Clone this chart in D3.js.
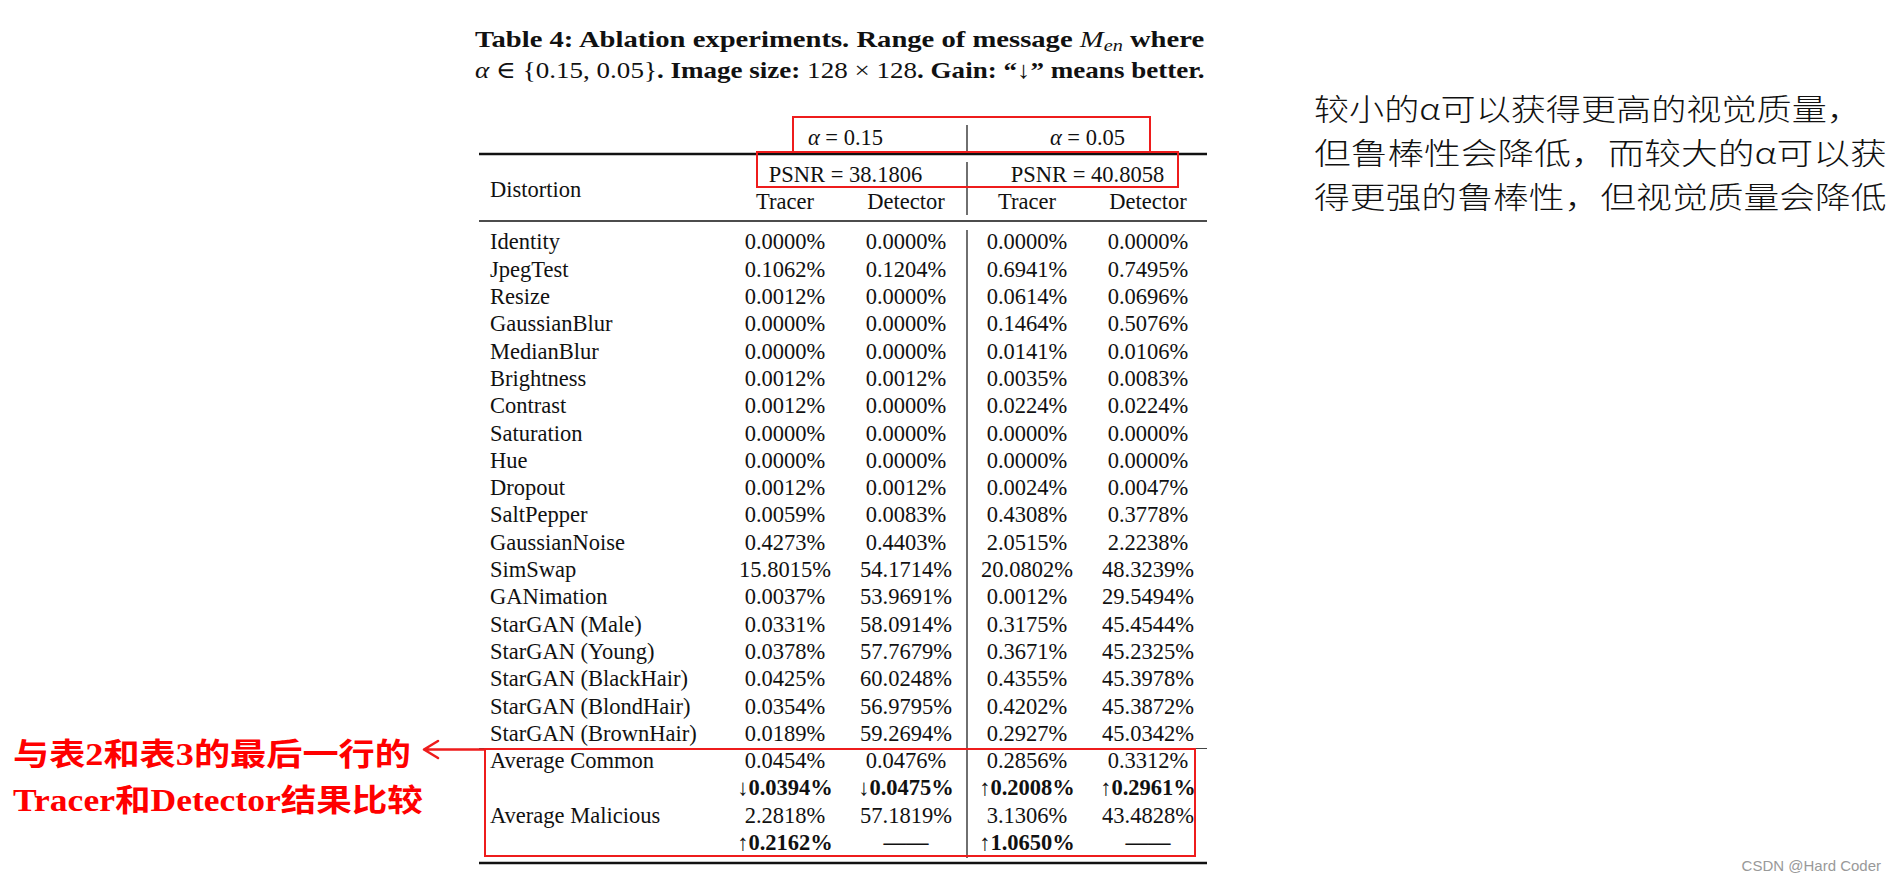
<!DOCTYPE html>
<html>
<head>
<meta charset="utf-8">
<script src="https://cdn.jsdelivr.net/npm/d3@7.9.0/dist/d3.min.js"></script>
<style>
  body { margin: 0; background: #fff; }
  svg { display: block; }
  .serif { font-family: "Liberation Serif", "DejaVu Serif", serif; }
</style>
</head>
<body>
<svg id="chart" width="1896" height="882"></svg>
<script>
// ---- table data ----
const distortions = [
  'Identity', 'JpegTest', 'Resize', 'GaussianBlur', 'MedianBlur', 'Brightness',
  'Contrast', 'Saturation', 'Hue', 'Dropout', 'SaltPepper', 'GaussianNoise',
  'SimSwap', 'GANimation', 'StarGAN (Male)', 'StarGAN (Young)',
  'StarGAN (BlackHair)', 'StarGAN (BlondHair)', 'StarGAN (BrownHair)'
];
const tracer15 = [
  '0.0000%', '0.1062%', '0.0012%', '0.0000%', '0.0000%', '0.0012%', '0.0012%',
  '0.0000%', '0.0000%', '0.0012%', '0.0059%', '0.4273%', '15.8015%', '0.0037%',
  '0.0331%', '0.0378%', '0.0425%', '0.0354%', '0.0189%'
];
const detector15 = [
  '0.0000%', '0.1204%', '0.0000%', '0.0000%', '0.0000%', '0.0012%', '0.0000%',
  '0.0000%', '0.0000%', '0.0012%', '0.0083%', '0.4403%', '54.1714%', '53.9691%',
  '58.0914%', '57.7679%', '60.0248%', '56.9795%', '59.2694%'
];
const tracer05 = [
  '0.0000%', '0.6941%', '0.0614%', '0.1464%', '0.0141%', '0.0035%', '0.0224%',
  '0.0000%', '0.0000%', '0.0024%', '0.4308%', '2.0515%', '20.0802%', '0.0012%',
  '0.3175%', '0.3671%', '0.4355%', '0.4202%', '0.2927%'
];
const detector05 = [
  '0.0000%', '0.7495%', '0.0696%', '0.5076%', '0.0106%', '0.0083%', '0.0224%',
  '0.0000%', '0.0000%', '0.0047%', '0.3778%', '2.2238%', '48.3239%', '29.5494%',
  '45.4544%', '45.2325%', '45.3978%', '45.3872%', '45.0342%'
];
const avgCommon = ['0.0454%', '0.0476%', '0.2856%', '0.3312%'];
const gainCommon = ['↓0.0394%', '↓0.0475%', '↑0.2008%', '↑0.2961%'];
const avgMalicious = ['2.2818%', '57.1819%', '3.1306%', '43.4828%'];
const gainMalicious = ['↑0.2162%', '——', '↑1.0650%', '——'];

const columns = ['Tracer', 'Detector', 'Tracer', 'Detector'];
const alphaLabels = ['0.15', '0.05'];
const psnrLabels = ['38.1806', '40.8058'];

const noteLines = [
  '较小的α可以获得更高的视觉质量，',
  '但鲁棒性会降低，而较大的α可以获',
  '得更强的鲁棒性，但视觉质量会降低'
];
const redLines = ['与表2和表3的最后一行的', 'Tracer和Detector结果比较'];

// ---- assemble rows ----
const rows = distortions.map((label, i) => ({
  label, vals: [tracer15[i], detector15[i], tracer05[i], detector05[i]], bold: false
}));
rows.push({ label: 'Average Common', vals: avgCommon, bold: false });
rows.push({ label: '', vals: gainCommon, bold: true });
rows.push({ label: 'Average Malicious', vals: avgMalicious, bold: false });
rows.push({ label: '', vals: gainMalicious, bold: true });

const svg = d3.select('#chart');
svg.append('rect').attr('width', 1896).attr('height', 882).attr('fill', '#fff');

const FS = 22.5;
const left = 479, right = 1207, labelX = 490;
const sepX = 967;
const RED = '#ee1c1c';

const x = d3.scalePoint().domain(d3.range(4)).range([785, 1148]);
const y = d3.scalePoint().domain(d3.range(rows.length)).range([242, 842.6]);

const g = svg.append('g').attr('class', 'serif').attr('fill', '#111');

// stretch a text element horizontally so it spans `width` from x0
function fitWidth(el, x0, width) {
  const w = el.getBBox().width;
  d3.select(el).attr('transform',
    `translate(${x0},0) scale(${width / w},1) translate(${-x0},0)`);
}

// ---- caption ----
const l1 = g.append('text').attr('x', 475).attr('y', 47)
  .attr('font-size', 24).attr('font-weight', 'bold');
l1.append('tspan').text('Table 4: Ablation experiments. Range of message ');
l1.append('tspan').attr('font-style', 'italic').attr('font-weight', 'normal').text('M');
l1.append('tspan').attr('font-style', 'italic').attr('font-weight', 'normal')
  .attr('font-size', 17).attr('dy', 4).text('en');
l1.append('tspan').attr('dy', -4).text(' where');
fitWidth(l1.node(), 475, 730);

const l2 = g.append('text').attr('x', 475).attr('y', 78)
  .attr('font-size', 24).attr('font-weight', 'bold');
l2.append('tspan').attr('font-style', 'italic').attr('font-weight', 'normal').text('α');
l2.append('tspan').attr('font-weight', 'normal').text(' ∈ {0.15, 0.05}');
l2.append('tspan').text('. Image size: ');
l2.append('tspan').attr('font-weight', 'normal').text('128 × 128');
l2.append('tspan').text('. Gain: “↓” means better.');
fitWidth(l2.node(), 475, 730);

// ---- rules ----
const rule = (yy, w, col) => g.append('line')
  .attr('x1', left).attr('x2', right).attr('y1', yy).attr('y2', yy)
  .attr('stroke', col || '#111').attr('stroke-width', w);
rule(154, 2.4);
rule(221, 1.6);
rule(748.5, 1.2, '#444');
rule(863, 2.4);

const vline = (y1, y2) => g.append('line')
  .attr('x1', sepX).attr('x2', sepX).attr('y1', y1).attr('y2', y2)
  .attr('stroke', '#222').attr('stroke-width', 1.3);
vline(125, 152);
vline(162, 215);
vline(230, 858);

// ---- header ----
const pairX = i => (x(i * 2) + x(i * 2 + 1)) / 2;
alphaLabels.forEach((a, i) => {
  const t = g.append('text').attr('x', pairX(i)).attr('y', 145)
    .attr('text-anchor', 'middle').attr('font-size', FS);
  t.append('tspan').attr('font-style', 'italic').text('α');
  t.append('tspan').text(' = ' + a);
});
psnrLabels.forEach((p, i) => {
  g.append('text').attr('x', pairX(i)).attr('y', 182)
    .attr('text-anchor', 'middle').attr('font-size', FS).text('PSNR = ' + p);
});
g.append('text').attr('x', labelX).attr('y', 197).attr('font-size', FS).text('Distortion');
g.selectAll('text.colhead').data(columns).join('text')
  .attr('class', 'colhead')
  .attr('x', (d, i) => x(i)).attr('y', 209)
  .attr('text-anchor', 'middle').attr('font-size', FS).text(d => d);

// ---- body ----
const rowG = g.selectAll('g.row').data(rows).join('g')
  .attr('class', 'row')
  .attr('transform', (d, i) => `translate(0,${y(i)})`);
rowG.append('text').attr('x', labelX).attr('dy', '0.33em')
  .attr('font-size', FS).text(d => d.label);
rowG.selectAll('text.val').data(d => d.vals.map(v => ({ v, bold: d.bold })))
  .join('text').attr('class', 'val')
  .attr('x', (d, i) => x(i)).attr('dy', '0.33em')
  .attr('text-anchor', 'middle').attr('font-size', FS)
  .attr('font-weight', d => d.bold ? 'bold' : 'normal')
  .text(d => d.v);

// ---- red boxes ----
const box = (x0, y0, x1, y1) => svg.append('rect')
  .attr('x', x0).attr('y', y0).attr('width', x1 - x0).attr('height', y1 - y0)
  .attr('fill', 'none').attr('stroke', RED).attr('stroke-width', 2);
box(793, 117, 1150, 152);
box(757, 152, 1178, 187);
box(485, 749, 1195, 856);

// ---- annotations ----
const noteWidths = [548, 573, 573];
svg.append('g').selectAll('text').data(noteLines).join('text')
  .attr('x', 1314).attr('y', (d, i) => 120 + i * 44)
  .attr('font-family', '"Noto Sans CJK SC", sans-serif')
  .attr('font-size', 30).attr('font-weight', 300).attr('fill', '#111')
  .text(d => d)
  .each(function (d, i) { fitWidth(this, 1314, noteWidths[i]); });

const redWidths = [398, 410];
svg.append('g').selectAll('text').data(redLines).join('text')
  .attr('x', 13).attr('y', (d, i) => 765 + i * 46)
  .attr('font-family', '"Liberation Serif", "Noto Sans CJK SC", serif')
  .attr('font-size', 31).attr('font-weight', 'bold').attr('fill', '#f00')
  .text(d => d)
  .each(function (d, i) { fitWidth(this, 13, redWidths[i]); });

// arrow pointing left at the highlighted rows
svg.append('path')
  .attr('d', 'M484,749.5 L424,749.5 M438,741 L424,749.5 L438,758')
  .attr('fill', 'none').attr('stroke', RED).attr('stroke-width', 2.6)
  .attr('stroke-linecap', 'round').attr('stroke-linejoin', 'round');

svg.append('text').attr('x', 1881).attr('y', 871).attr('text-anchor', 'end')
  .attr('font-family', 'Arial, "Liberation Sans", sans-serif')
  .attr('font-size', 15).attr('fill', '#999').text('CSDN @Hard Coder');
</script>
</body>
</html>
